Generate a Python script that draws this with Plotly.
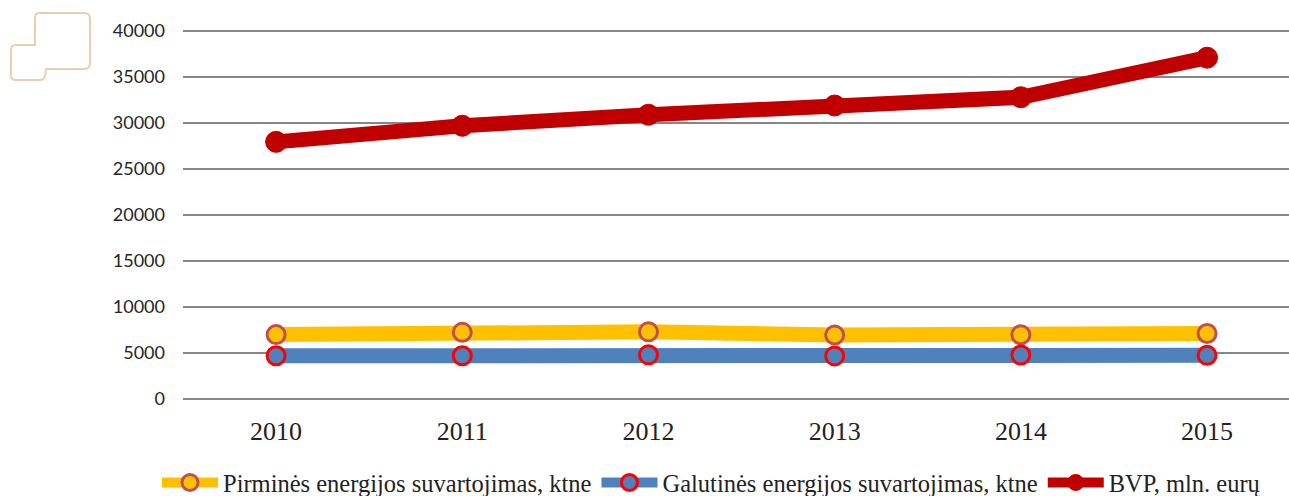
import plotly.graph_objects as go

years = ["2010", "2011", "2012", "2013", "2014", "2015"]
primary = [7000, 7250, 7300, 6950, 6980, 7120]
final = [4700, 4700, 4800, 4680, 4780, 4750]
gdp = [27950, 29700, 30900, 31900, 32800, 37100]
y_ticks = [0, 5000, 10000, 15000, 20000, 25000, 30000, 35000, 40000]

W, H = 1289, 496
L, R, T, B = 183, 0, 29, 97

fig = go.Figure()
fig.add_trace(go.Scatter(x=years, y=primary, name="Pirminės energijos suvartojimas, ktne", mode="lines+markers",
    line=dict(color="#FFC000", width=15),
    marker=dict(size=18, color="#FFC000", line=dict(color="#C0504D", width=3))))
fig.add_trace(go.Scatter(x=years, y=final, name="Galutinės energijos suvartojimas, ktne", mode="lines+markers",
    line=dict(color="#4F81BD", width=15),
    marker=dict(size=18, color="#4F81BD", line=dict(color="#FF0000", width=3))))
fig.add_trace(go.Scatter(x=years, y=gdp, name="BVP, mln. eurų", mode="lines+markers",
    line=dict(color="#C00000", width=15),
    marker=dict(size=21, color="#C00000", line=dict(color="#C00000", width=1))))

# faint logo outline in the top-left corner (paper coordinates)
def px(x): return (x - L) / (W - L - R)
def py(y): return 1 - (y - T) / (H - T - B)
pts = [("M", 40, 13), ("L", 84, 13), ("Q", 90, 13, 90, 19), ("L", 90, 63), ("Q", 90, 69, 84, 69),
       ("L", 46, 69), ("L", 45, 76), ("Q", 44, 80, 40, 80), ("L", 16, 80), ("Q", 11, 80, 11, 75),
       ("L", 11, 50), ("Q", 11, 45, 16, 45), ("L", 35, 45), ("L", 35, 18), ("Q", 35, 13, 40, 13)]
path = ""
for p in pts:
    c = p[0]; v = p[1:]
    coords = " ".join(f"{px(v[i]):.5f},{py(v[i+1]):.5f}" for i in range(0, len(v), 2))
    path += f"{c} {coords} "
path += "Z"

fig.update_layout(
    width=W, height=H, margin=dict(l=L, r=R, t=T, b=B, autoexpand=False),
    paper_bgcolor="white", plot_bgcolor="white", showlegend=True,
    xaxis=dict(type="category", categoryorder="array", categoryarray=years, range=[-0.5, 5.44],
               showgrid=False, showline=False, zeroline=False, ticks="",
               tickfont=dict(family="Liberation Serif", size=26, color="#222222"), ticklabelstandoff=14),
    yaxis=dict(range=[0, 40217], tickvals=y_ticks, ticktext=[str(v) for v in y_ticks],
               showgrid=True, gridcolor="#868686", gridwidth=2, zeroline=True, zerolinecolor="#868686", zerolinewidth=2,
               showline=False, ticks="", tickfont=dict(family="Lato", size=18, color="#262626"), ticklabelstandoff=17),
    legend=dict(orientation="h", x=(157 - L) / (W - L - R), xanchor="left", y=-0.165, yanchor="top", itemwidth=56,
                font=dict(family="Liberation Serif", size=24.5, color="#222222"), tracegroupgap=0,
                bgcolor="rgba(0,0,0,0)"),
    shapes=[dict(type="path", xref="paper", yref="paper", path=path,
                 line=dict(color="#EBCDB0", width=2), fillcolor="rgba(0,0,0,0)", layer="above")],
)
fig.write_html("out.html", post_script="document.body.style.margin='0';", config={"displayModeBar": False})
